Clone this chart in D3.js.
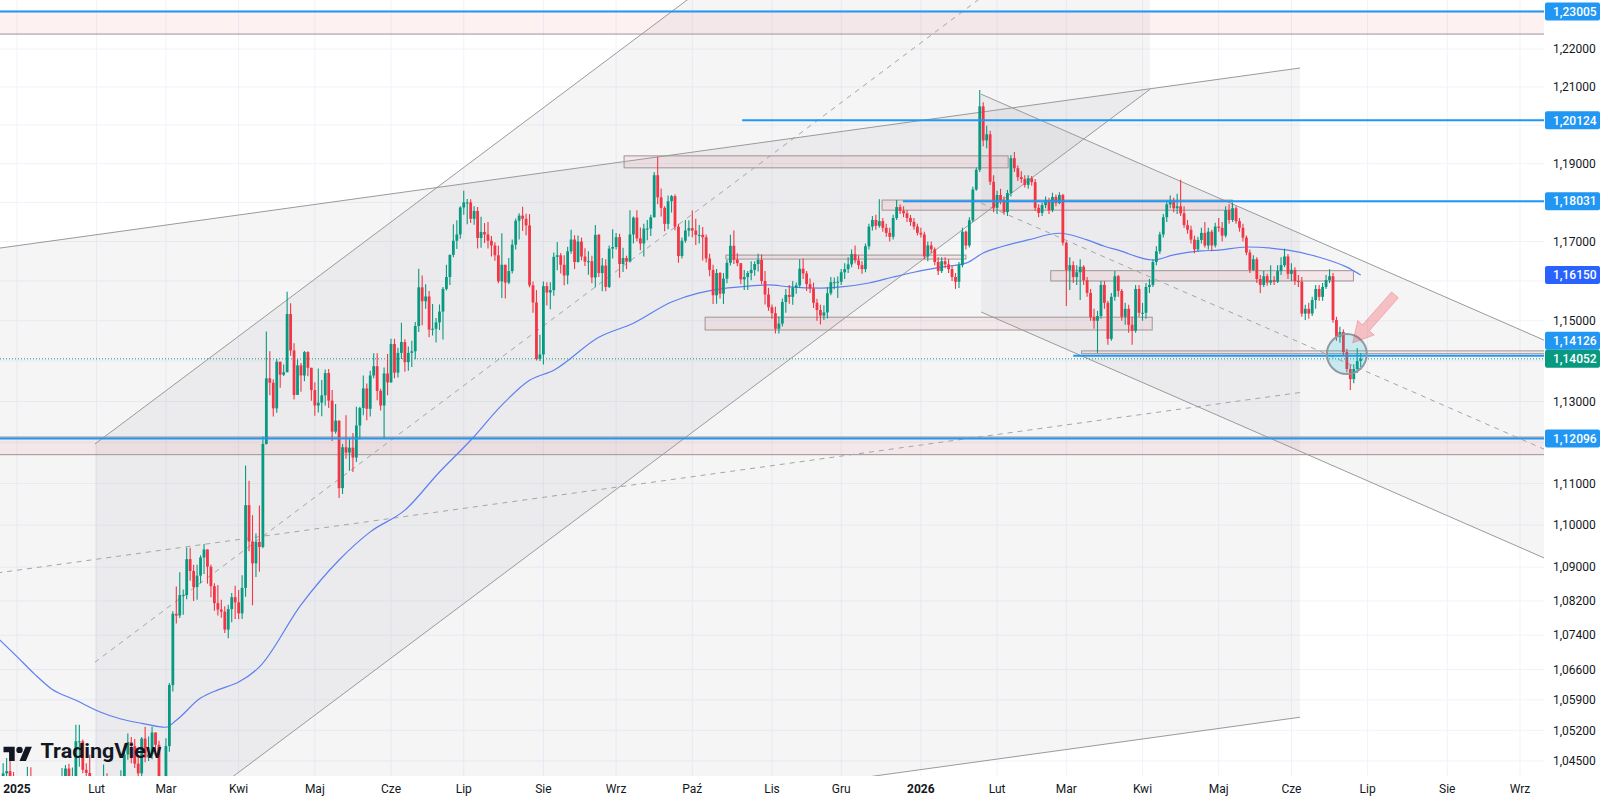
<!DOCTYPE html>
<html>
<head>
<meta charset="utf-8">
<style>
  html, body { margin: 0; padding: 0; background: #fff; }
  svg { display: block; font-family: Roboto, "Liberation Sans", sans-serif; }
</style>
</head>
<body>
<svg id="chart" width="1603" height="799"></svg>
<script src="https://d3js.org/d3.v7.min.js"></script>
<script>
// ---- data (daily EURUSD-style bars from 25 Dec 2024, weekdays only) ----
const monthNames = ["Sty", "Lut", "Mar", "Kwi", "Maj", "Cze", "Lip", "Sie", "Wrz", "Paź", "Lis", "Gru"];
const priceTicks = [1.22, 1.21, 1.20, 1.19, 1.18, 1.17, 1.16, 1.15, 1.14, 1.13, 1.12, 1.11, 1.10, 1.09, 1.082, 1.074, 1.066, 1.059, 1.052, 1.045];
const firstOpen = 1.0406;

const closes = [
  1.0400,1.0422,1.0427,1.0408,1.0354,
  1.0352,1.0266,1.0307,1.0389,1.0342,1.0320,1.0300,1.0244,1.0245,1.0308,1.0292,1.0301,1.0273,1.0415,1.0433,1.0410,1.0416,1.0495,1.0495,1.0430,1.0423,1.0390,1.0362,
  1.0345,1.0380,1.0404,1.0382,1.0330,1.0307,1.0361,1.0381,1.0465,1.0493,1.0484,1.0444,1.0422,1.0501,1.0458,1.0465,1.0515,1.0487,1.0398,1.0375,
  1.0484,1.0624,1.0790,1.0786,1.0834,1.0834,1.0919,1.0891,1.0853,1.0880,1.0923,1.0942,1.0901,1.0855,1.0815,1.0800,1.0795,1.0753,1.0801,1.0829,1.0817,
  1.0791,1.0851,1.1048,1.0961,1.0909,1.0960,1.0948,1.1196,1.1357,1.1346,1.1283,1.1398,1.1366,1.1372,1.1517,1.1426,1.1316,1.1389,1.1364,1.1422,1.1383,1.1328,
  1.1290,1.1297,1.1315,1.1370,1.1302,1.1226,1.1253,1.1089,1.1188,1.1175,1.1187,1.1163,1.1241,1.1284,1.1332,1.1282,1.1364,1.1387,1.1326,1.1290,1.1369,1.1347,
  1.1442,1.1371,1.1420,1.1447,1.1397,1.1420,1.1424,1.1487,1.1584,1.1549,1.1561,1.1478,1.1480,1.1496,1.1523,1.1580,1.1610,1.1666,1.1702,1.1718,1.1787,
  1.1800,1.1800,1.1758,1.1778,1.1709,1.1724,1.1718,1.1702,1.1690,1.1665,1.1599,1.1641,1.1596,1.1625,1.1692,1.1753,1.1766,1.1758,1.1741,1.1589,1.1546,1.1405,1.1416,
  1.1587,1.1571,1.1577,1.1661,1.1665,1.1641,1.1614,1.1675,1.1705,1.1648,1.1700,1.1662,1.1649,1.1650,1.1609,1.1717,1.1620,1.1639,1.1585,1.1682,1.1686,
  1.1711,1.1643,1.1658,1.1649,1.1718,1.1761,1.1708,1.1695,1.1733,1.1733,1.1762,1.1870,1.1813,1.1786,1.1745,1.1803,1.1816,1.1738,1.1663,1.1702,1.1728,1.1734,
  1.1728,1.1717,1.1717,1.1711,1.1657,1.1628,1.1564,1.1620,1.1568,1.1606,1.1646,1.1689,1.1654,1.1645,1.1604,1.1610,1.1620,1.1628,1.1643,1.1653,1.1600,1.1566,1.1534,
  1.1519,1.1480,1.1493,1.1547,1.1565,1.1560,1.1583,1.1589,1.1631,1.1619,1.1592,1.1581,1.1545,1.1527,1.1513,1.1521,1.1569,1.1597,1.1597,1.1598,
  1.1622,1.1630,1.1642,1.1668,1.1652,1.1640,1.1630,1.1688,1.1738,1.1755,1.1740,1.1752,1.1735,1.1722,1.1712,1.1760,1.1788,1.1778,1.1772,1.1760,1.1750,1.1738,1.1722,
  1.1718,1.1662,1.1690,1.1680,1.1648,1.1625,1.1650,1.1642,1.1630,1.1610,1.1598,1.1640,1.1725,1.1690,1.1754,1.1833,1.1884,1.2049,1.1960,1.1976,1.1853,1.1786,
  1.1819,1.1806,1.1775,1.1824,1.1914,1.1888,1.1865,1.1860,1.1845,1.1862,1.1852,1.1786,1.1773,1.1793,1.1806,1.1780,1.1814,1.1798,1.1819,1.1697,
  1.1628,1.1640,1.1610,1.1622,1.1636,1.1602,1.1570,1.1509,1.1500,1.1512,1.1590,1.1545,1.1455,1.1560,1.1612,1.1575,1.1510,1.1530,1.1490,1.1475,1.1580,1.1520,
  1.1520,1.1585,1.1590,1.1648,1.1675,1.1718,1.1762,1.1795,1.1805,1.1785,1.1790,1.1772,1.1742,1.1730,1.1705,1.1680,1.1704,1.1722,1.1690,1.1725,1.1690,1.1738,
  1.1735,1.1715,1.1780,1.1755,1.1785,1.1752,1.1735,1.1710,1.1672,1.1628,1.1655,1.1605,1.1590,1.1612,1.1596,1.1602,1.1598,1.1625,1.1640,1.1662,1.1618,
  1.1628,1.1600,1.1598,1.1518,1.1530,1.1518,1.1552,1.1580,1.1560,1.1585,1.1602,1.1612,1.1502,1.1460,1.1472,1.1422,1.1380,1.1355,1.1380,1.1400,1.14052
];
const highs = [
  1.0410,1.0445,1.0457,1.0456,1.0425,
  1.0375,1.0376,1.0330,1.0437,1.0436,1.0350,1.0323,1.0320,1.0255,1.0320,1.0353,1.0318,1.0313,1.0434,1.0441,1.0444,1.0435,1.0533,1.0533,1.0499,1.0445,1.0464,1.0407,
  1.0375,1.0398,1.0442,1.0422,1.0414,1.0342,1.0373,1.0429,1.0471,1.0513,1.0505,1.0500,1.0460,1.0505,1.0528,1.0506,1.0528,1.0514,1.0496,1.0413,
  1.0502,1.0629,1.0796,1.0854,1.0888,1.0847,1.0947,1.0946,1.0906,1.0906,1.0928,1.0955,1.0942,1.0906,1.0862,1.0858,1.0823,1.0808,1.0811,1.0839,1.0856,
  1.0846,1.0881,1.1144,1.1107,1.1024,1.0980,1.1047,1.1214,1.1473,1.1424,1.1355,1.1405,1.1390,1.1391,1.1573,1.1544,1.1444,1.1404,1.1395,1.1425,1.1424,1.1381,
  1.1347,1.1381,1.1353,1.1379,1.1380,1.1328,1.1294,1.1242,1.1196,1.1266,1.1210,1.1223,1.1287,1.1287,1.1364,1.1344,1.1376,1.1419,1.1419,1.1331,1.1384,1.1417,
  1.1455,1.1455,1.1433,1.1495,1.1454,1.1436,1.1450,1.1497,1.1631,1.1614,1.1592,1.1575,1.1542,1.1507,1.1541,1.1585,1.1641,1.1667,1.1744,1.1754,1.1790,
  1.1830,1.1809,1.1808,1.1790,1.1788,1.1763,1.1747,1.1750,1.1714,1.1698,1.1689,1.1721,1.1641,1.1658,1.1705,1.1759,1.1772,1.1789,1.1771,1.1770,1.1599,1.1577,1.1465,
  1.1599,1.1597,1.1597,1.1672,1.1699,1.1671,1.1665,1.1687,1.1730,1.1716,1.1715,1.1710,1.1683,1.1675,1.1664,1.1742,1.1719,1.1658,1.1655,1.1690,1.1731,
  1.1722,1.1720,1.1684,1.1664,1.1780,1.1764,1.1780,1.1736,1.1745,1.1755,1.1768,1.1878,1.1918,1.1836,1.1790,1.1818,1.1819,1.1820,1.1745,1.1710,1.1755,1.1754,
  1.1779,1.1758,1.1742,1.1737,1.1718,1.1669,1.1641,1.1630,1.1623,1.1620,1.1653,1.1717,1.1728,1.1670,1.1645,1.1628,1.1625,1.1650,1.1650,1.1669,1.1667,1.1625,1.1583,
  1.1541,1.1535,1.1511,1.1556,1.1580,1.1590,1.1600,1.1596,1.1655,1.1657,1.1625,1.1606,1.1596,1.1555,1.1540,1.1539,1.1585,1.1610,1.1609,1.1611,
  1.1630,1.1645,1.1660,1.1680,1.1690,1.1665,1.1650,1.1695,1.1745,1.1765,1.1768,1.1808,1.1760,1.1745,1.1735,1.1768,1.1806,1.1795,1.1790,1.1780,1.1768,1.1760,1.1745,
  1.1735,1.1725,1.1700,1.1700,1.1685,1.1660,1.1660,1.1660,1.1655,1.1640,1.1620,1.1648,1.1735,1.1728,1.1762,1.1840,1.1890,1.2092,1.2060,1.1998,1.1985,1.1870,
  1.1830,1.1835,1.1815,1.1832,1.1922,1.1930,1.1895,1.1880,1.1870,1.1870,1.1868,1.1860,1.1795,1.1800,1.1815,1.1812,1.1825,1.1820,1.1826,1.1822,
  1.1700,1.1660,1.1650,1.1640,1.1655,1.1640,1.1610,1.1580,1.1530,1.1525,1.1600,1.1600,1.1550,1.1570,1.1625,1.1615,1.1580,1.1545,1.1540,1.1510,1.1590,1.1590,
  1.1545,1.1595,1.1605,1.1655,1.1688,1.1725,1.1770,1.1805,1.1818,1.1812,1.1822,1.1858,1.1790,1.1755,1.1740,1.1715,1.1712,1.1735,1.1750,1.1735,1.1730,1.1748,
  1.1760,1.1750,1.1790,1.1795,1.1798,1.1790,1.1760,1.1745,1.1715,1.1680,1.1665,1.1660,1.1615,1.1625,1.1618,1.1640,1.1612,1.1640,1.1660,1.1682,1.1668,
  1.1645,1.1635,1.1615,1.1610,1.1540,1.1545,1.1560,1.1590,1.1590,1.1595,1.1615,1.1630,1.1620,1.1510,1.1485,1.1478,1.1430,1.1390,1.1392,1.1432,1.1420
];
const lows = [
  1.0385,1.0380,1.0395,1.0390,1.0340,
  1.0340,1.0226,1.0250,1.0304,1.0323,1.0273,1.0281,1.0214,1.0178,1.0234,1.0266,1.0268,1.0266,1.0268,1.0345,1.0389,1.0384,1.0412,1.0437,1.0422,1.0392,1.0378,1.0348,
  1.0141,1.0319,1.0360,1.0364,1.0307,1.0285,1.0288,1.0313,1.0371,1.0453,1.0445,1.0434,1.0401,1.0413,1.0447,1.0450,1.0454,1.0466,1.0385,1.0359,
  1.0378,1.0471,1.0609,1.0767,1.0780,1.0788,1.0824,1.0868,1.0820,1.0823,1.0862,1.0884,1.0861,1.0829,1.0797,1.0786,1.0781,1.0745,1.0733,1.0770,1.0778,
  1.0777,1.0778,1.0830,1.0938,1.0810,1.0877,1.0889,1.0945,1.1195,1.1315,1.1263,1.1272,1.1334,1.1363,1.1383,1.1413,1.1305,1.1316,1.1324,1.1350,1.1362,1.1302,
  1.1265,1.1273,1.1264,1.1290,1.1284,1.1203,1.1221,1.1065,1.1075,1.1160,1.1131,1.1128,1.1152,1.1207,1.1266,1.1254,1.1263,1.1357,1.1303,1.1278,1.1210,1.1315,
  1.1346,1.1357,1.1359,1.1405,1.1373,1.1376,1.1385,1.1404,1.1472,1.1489,1.1530,1.1459,1.1463,1.1446,1.1477,1.1453,1.1576,1.1590,1.1660,1.1681,1.1707,
  1.1768,1.1744,1.1747,1.1743,1.1682,1.1684,1.1696,1.1682,1.1662,1.1651,1.1594,1.1557,1.1556,1.1592,1.1619,1.1680,1.1705,1.1727,1.1716,1.1584,1.1520,1.1401,1.1400,
  1.1391,1.1538,1.1529,1.1563,1.1627,1.1619,1.1589,1.1592,1.1669,1.1630,1.1647,1.1652,1.1638,1.1616,1.1594,1.1584,1.1610,1.1574,1.1574,1.1582,1.1657,
  1.1680,1.1608,1.1623,1.1630,1.1647,1.1695,1.1700,1.1678,1.1662,1.1703,1.1714,1.1761,1.1795,1.1764,1.1726,1.1731,1.1774,1.1729,1.1646,1.1657,1.1697,1.1713,
  1.1711,1.1691,1.1695,1.1652,1.1647,1.1612,1.1542,1.1543,1.1556,1.1542,1.1594,1.1639,1.1643,1.1637,1.1592,1.1577,1.1577,1.1602,1.1613,1.1624,1.1592,1.1541,1.1525,
  1.1505,1.1468,1.1468,1.1486,1.1520,1.1543,1.1540,1.1568,1.1583,1.1605,1.1575,1.1570,1.1532,1.1500,1.1491,1.1502,1.1506,1.1564,1.1579,1.1557,
  1.1590,1.1605,1.1620,1.1635,1.1645,1.1630,1.1618,1.1622,1.1680,1.1728,1.1730,1.1735,1.1725,1.1712,1.1700,1.1705,1.1755,1.1770,1.1762,1.1750,1.1740,1.1730,1.1715,
  1.1710,1.1655,1.1650,1.1670,1.1640,1.1615,1.1620,1.1632,1.1620,1.1600,1.1580,1.1582,1.1635,1.1680,1.1685,1.1750,1.1830,1.1878,1.1945,1.1940,1.1845,1.1775,
  1.1770,1.1795,1.1768,1.1765,1.1815,1.1878,1.1855,1.1850,1.1838,1.1835,1.1843,1.1778,1.1762,1.1765,1.1785,1.1770,1.1775,1.1790,1.1795,1.1690,
  1.1537,1.1577,1.1595,1.1590,1.1552,1.1590,1.1560,1.1500,1.1480,1.1420,1.1505,1.1530,1.1440,1.1450,1.1550,1.1560,1.1500,1.1490,1.1470,1.1440,1.1470,1.1510,
  1.1500,1.1505,1.1570,1.1585,1.1640,1.1668,1.1710,1.1750,1.1785,1.1775,1.1770,1.1765,1.1735,1.1720,1.1695,1.1670,1.1675,1.1695,1.1685,1.1680,1.1675,1.1685,
  1.1725,1.1700,1.1710,1.1745,1.1750,1.1745,1.1725,1.1700,1.1665,1.1620,1.1625,1.1595,1.1570,1.1585,1.1588,1.1590,1.1590,1.1595,1.1615,1.1635,1.1605,
  1.1600,1.1590,1.1585,1.1510,1.1502,1.1505,1.1512,1.1530,1.1550,1.1550,1.1580,1.1595,1.1495,1.1450,1.1445,1.1415,1.1372,1.1328,1.1345,1.1370,1.1385
];

// moving average (bar position, value)
const maPos = [0,5,10,15,22,29,35,41,48,51,58,63,69,75,87,98,107,117,127,136,145,153,160,173,183,194,202,206,216,222,228,237,243,251,258,264,272,279,284,289,297,306,314,319,323,333,339,347,352,360,372,381,389,393];
const maValues = [1.0729,1.0690,1.0650,1.0615,1.0589,1.0562,1.0546,1.0536,1.0527,1.0543,1.0594,1.0613,1.0631,1.0666,1.0811,1.0917,1.0984,1.1036,1.1128,1.1205,1.1291,1.1352,1.1377,1.1459,1.1494,1.1547,1.1570,1.1577,1.1587,1.1590,1.1585,1.1582,1.1585,1.1595,1.1610,1.1622,1.1635,1.1645,1.1671,1.1686,1.1704,1.1721,1.1704,1.1688,1.1678,1.1653,1.1666,1.1676,1.1678,1.1686,1.1678,1.1660,1.1635,1.1615];

// horizontal levels (price, first bar)
const levelPrices = [1.23005, 1.20124, 1.18031, 1.14126, 1.12096];
const levelStart = [-20, 214.4, 260.8, 310, -20];

// zones: [bar from, bar to, top price, bottom price]
const zones = [
  [-20, 470, 1.23005, 1.2240],
  [-20, 470, 1.1213, 1.1170],
  [180.3, 291.2, 1.1920, 1.1889],
  [254.8, 355.9, 1.1806, 1.1780],
  [209.7, 279.0, 1.16655, 1.16554],
  [203.7, 332.8, 1.1509, 1.1477],
  [303.5, 390.9, 1.1626, 1.1600],
  [312.4, 470, 1.1425, 1.1418]
];

// parallel channels: bar range, upper / middle / lower price at both ends
const channelBars = [[27.5, 332.2], [-15, 375.5], [283.4, 462.1]];
const channelUpper = [[1.1196, 1.3298], [1.1665, 1.2150], [1.2081, 1.1391]];
const channelMid = [[1.0677, 1.2682], [1.0870, 1.1322], [1.1798, 1.1124]];
const channelLower = [[1.0183, 1.2094], [1.0130, 1.0550], [1.1522, 1.0864]];

// marker circle and arrow
const circleAt = [389, 1.1417];
const arrowFrom = [402.9, 1.1565];
const arrowTo = [390.7, 1.1445];

// ---- chart ----
const W = 1603, H = 799, plotW = 1544, plotH = 776;
const upColor = "#089981", downColor = "#f23645";

const svg = d3.select("#chart");
svg.append("rect").attr("width", W).attr("height", H).attr("fill", "#fff");

const x = d3.scaleLinear().domain([5, 439]).range([17, 1520]);
const y = d3.scaleLog().domain([1.0416, 1.2331]).range([plotH, 0]);

// trading-day calendar
const dates = [];
for (let d = new Date(Date.UTC(2024, 11, 25)); dates.length < 470; d.setUTCDate(d.getUTCDate() + 1)) {
  const wd = d.getUTCDay();
  if (wd !== 0 && wd !== 6) dates.push(new Date(d));
}
const monthTicks = [];
dates.forEach((d, k) => {
  if (k > 0 && d.getUTCMonth() !== dates[k - 1].getUTCMonth()) {
    const m = d.getUTCMonth();
    monthTicks.push({ k, text: m === 0 ? String(d.getUTCFullYear()) : monthNames[m], year: m === 0 });
  }
});
const visibleTicks = monthTicks.filter(t => x(t.k) > 0 && x(t.k) < plotW - 10);

const candles = closes.map((c, k) => {
  const o = k === 0 ? firstOpen : closes[k - 1];
  return { k, o, c, h: Math.max(highs[k], o, c), l: Math.min(lows[k], o, c) };
});

svg.append("defs").append("clipPath").attr("id", "plotClip")
  .append("rect").attr("width", plotW).attr("height", plotH);
const plot = svg.append("g").attr("clip-path", "url(#plotClip)");

// grid
plot.append("g").selectAll("line").data(priceTicks).join("line")
  .attr("x1", 0).attr("x2", plotW)
  .attr("y1", d => y(d)).attr("y2", d => y(d))
  .attr("stroke", "#f0f3fa");
plot.append("g").selectAll("line").data(visibleTicks).join("line")
  .attr("x1", d => x(d.k)).attr("x2", d => x(d.k))
  .attr("y1", 0).attr("y2", plotH)
  .attr("stroke", "#f0f3fa");

// channel fills
const chanFill = plot.append("g");
channelBars.forEach((b, i) => {
  const pts = [
    [x(b[0]), y(channelUpper[i][0])], [x(b[1]), y(channelUpper[i][1])],
    [x(b[1]), y(channelLower[i][1])], [x(b[0]), y(channelLower[i][0])]
  ];
  chanFill.append("polygon")
    .attr("points", pts.map(p => p.join(",")).join(" "))
    .attr("fill", "rgba(120,123,134,0.075)");
});

// zones
plot.append("g").selectAll("rect").data(zones).join("rect")
  .attr("x", d => x(d[0])).attr("width", d => x(d[1]) - x(d[0]))
  .attr("y", d => y(d[2])).attr("height", d => y(d[3]) - y(d[2]))
  .attr("fill", "rgba(242,54,69,0.07)")
  .attr("stroke", "#9e9494").attr("stroke-width", 1);

// channel lines
const chanLines = plot.append("g").attr("fill", "none");
channelBars.forEach((b, i) => {
  [channelUpper[i], channelLower[i]].forEach(p => {
    chanLines.append("line")
      .attr("x1", x(b[0])).attr("y1", y(p[0])).attr("x2", x(b[1])).attr("y2", y(p[1]))
      .attr("stroke", "#9a9a9a").attr("stroke-width", 1);
  });
  chanLines.append("line")
    .attr("x1", x(b[0])).attr("y1", y(channelMid[i][0])).attr("x2", x(b[1])).attr("y2", y(channelMid[i][1]))
    .attr("stroke", "#a5a5a5").attr("stroke-width", 1).attr("stroke-dasharray", "5,5");
});

// moving average
plot.append("path")
  .datum(maPos.map((k, i) => [k, maValues[i]]))
  .attr("fill", "none").attr("stroke", "#5d7ff0").attr("stroke-width", 1.2)
  .attr("d", d3.line().x(d => x(d[0])).y(d => y(d[1])).curve(d3.curveMonotoneX));

// candles
const bw = 2.8;
const cg = plot.append("g");
cg.selectAll("line").data(candles).join("line")
  .attr("x1", d => x(d.k)).attr("x2", d => x(d.k))
  .attr("y1", d => y(d.h)).attr("y2", d => y(d.l))
  .attr("stroke", d => d.c >= d.o ? upColor : downColor).attr("stroke-width", 1.1);
cg.selectAll("rect").data(candles).join("rect")
  .attr("x", d => x(d.k) - bw / 2).attr("width", bw)
  .attr("y", d => y(Math.max(d.o, d.c)))
  .attr("height", d => Math.max(1, Math.abs(y(d.o) - y(d.c))))
  .attr("fill", d => d.c >= d.o ? upColor : downColor);

// horizontal level rays
plot.append("g").selectAll("line").data(levelPrices).join("line")
  .attr("x1", (d, i) => x(levelStart[i])).attr("x2", plotW)
  .attr("y1", d => y(d)).attr("y2", d => y(d))
  .attr("stroke", "#2196f3").attr("stroke-width", 2);

// current price line
const last = candles[candles.length - 1];
plot.append("line")
  .attr("x1", 0).attr("x2", plotW).attr("y1", y(last.c)).attr("y2", y(last.c))
  .attr("stroke", upColor).attr("stroke-width", 1).attr("stroke-dasharray", "1,2");

// circle marker
plot.append("circle")
  .attr("cx", x(circleAt[0])).attr("cy", y(circleAt[1])).attr("r", 20)
  .attr("fill", "rgba(0,188,212,0.18)").attr("stroke", "#8f9aa3").attr("stroke-width", 2);

// arrow marker
{
  const x1 = x(arrowFrom[0]), y1 = y(arrowFrom[1]), x2 = x(arrowTo[0]), y2 = y(arrowTo[1]);
  const len = Math.hypot(x2 - x1, y2 - y1), ux = (x2 - x1) / len, uy = (y2 - y1) / len;
  const nx = -uy, ny = ux, headL = 20, shaft = 4.5, head = 11;
  const bx = x2 - ux * headL, by = y2 - uy * headL;
  const pts = [
    [x1 + nx * shaft, y1 + ny * shaft], [bx + nx * shaft, by + ny * shaft], [bx + nx * head, by + ny * head],
    [x2, y2],
    [bx - nx * head, by - ny * head], [bx - nx * shaft, by - ny * shaft], [x1 - nx * shaft, y1 - ny * shaft]
  ];
  plot.append("polygon").attr("points", pts.map(p => p.join(",")).join(" "))
    .attr("fill", "rgba(242,54,69,0.28)").attr("stroke", "rgba(242,54,69,0.3)").attr("stroke-width", 1);
}

// TradingView logo
const logo = svg.append("g");
logo.append("g").attr("transform", "translate(3.5,743.5) scale(0.8)").attr("fill", "#131722")
  .call(g => {
    g.append("path").attr("d", "M14 22H7V11H0V4h14v18zM28 22h-8l7.5-18h8L28 22z");
    g.append("circle").attr("cx", 20).attr("cy", 8).attr("r", 4);
  });
logo.append("text").attr("x", 40.5).attr("y", 758)
  .attr("font-size", 21).attr("font-weight", 700).attr("fill", "#131722")
  .attr("textLength", 121).attr("lengthAdjust", "spacingAndGlyphs")
  .text("TradingView");

// price axis
const fmt = d3.formatLocale({ decimal: ",", thousands: " ", grouping: [3], currency: ["", ""] }).format(".5f");
const badges = levelPrices.map(p => ({ p, color: "#2196f3" }));
badges.push({ p: maValues[maValues.length - 1], color: "#2962ff" });
badges.push({ p: last.c, color: upColor });
badges.forEach(b => b.y = Math.max(9, y(b.p)));
badges.sort((a, b) => a.y - b.y);
for (let i = badges.length - 2; i >= 0; i--) {
  if (badges[i + 1].y - badges[i].y < 18) badges[i].y = badges[i + 1].y - 18;
}
const axis = svg.append("g").attr("font-size", 12);
axis.selectAll("text.tick").data(priceTicks.filter(p => badges.every(b => Math.abs(b.y - y(p)) > 15)))
  .join("text").attr("class", "tick")
  .attr("x", 1553).attr("y", d => y(d)).attr("dy", "0.35em")
  .attr("fill", "#131722").text(d => fmt(d));
const bg = axis.selectAll("g.badge").data(badges).join("g").attr("class", "badge")
  .attr("transform", d => `translate(1545,${d.y})`);
bg.append("rect").attr("x", 0).attr("y", -9).attr("width", 55).attr("height", 18).attr("rx", 2)
  .attr("fill", d => d.color);
bg.append("text").attr("x", 8).attr("dy", "0.35em").attr("fill", "#fff").attr("font-weight", 500)
  .text(d => fmt(d.p));

// time axis
svg.append("g").attr("font-size", 12).selectAll("text").data(visibleTicks).join("text")
  .attr("x", d => x(d.k)).attr("y", 789).attr("dy", "0.35em").attr("text-anchor", "middle")
  .attr("fill", "#131722").attr("font-weight", d => d.year ? 700 : 400)
  .text(d => d.text);
</script>
</body>
</html>
